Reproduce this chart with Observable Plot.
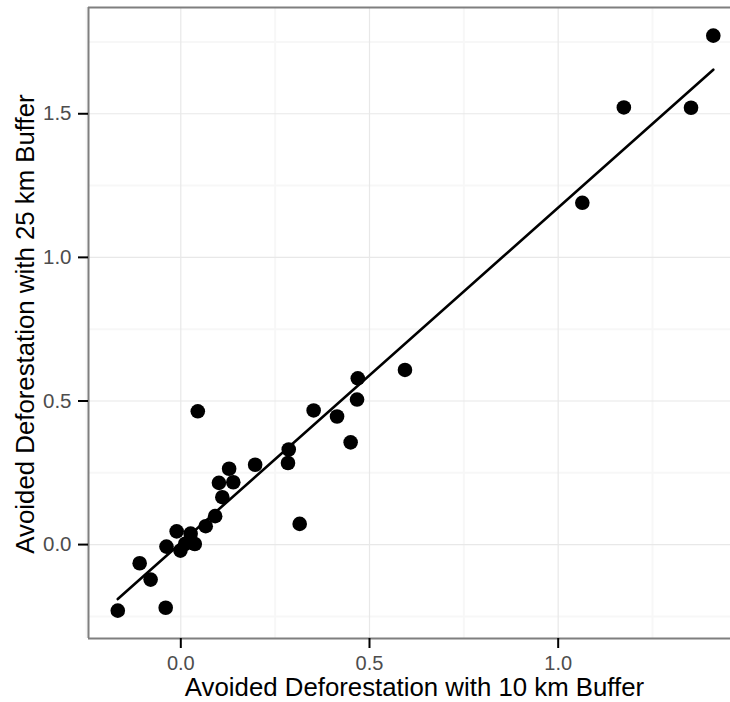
<!DOCTYPE html>
<html>
<head>
<meta charset="utf-8">
<script src="https://cdn.jsdelivr.net/npm/d3@7"></script>
<script src="https://cdn.jsdelivr.net/npm/@observablehq/plot@0.6"></script>
<style>
  html, body { margin: 0; padding: 0; background: #fff; }
  #chart svg { display: block; }
</style>
</head>
<body>
<div id="chart"></div>
<script>
// Avoided deforestation (10 km buffer vs 25 km buffer)
const buffer10 = [-0.167, -0.040, -0.109, -0.080, -0.038, -0.011, -0.001, 0.026, 0.037, 0.012,
  0.066, 0.091, 0.110, 0.101, 0.139, 0.128, 0.197, 0.045, 0.286, 0.284, 0.315, 0.352, 0.414,
  0.450, 0.469, 0.467, 0.594, 1.064, 1.174, 1.352, 1.411];
const buffer25 = [-0.230, -0.220, -0.065, -0.122, -0.007, 0.046, -0.021, 0.038, 0.002, 0.003,
  0.064, 0.099, 0.165, 0.215, 0.217, 0.264, 0.278, 0.464, 0.331, 0.284, 0.072, 0.467, 0.446,
  0.356, 0.579, 0.505, 0.608, 1.190, 1.522, 1.521, 1.772];

const xMajor = [0, 0.5, 1.0];
const xMinor = [-0.25, 0.25, 0.75, 1.25];
const yMajor = [0, 0.5, 1.0, 1.5];
const yMinor = [-0.25, 0.25, 0.75, 1.25, 1.75];
const xDomain = [-0.2446, 1.4566];
const yDomain = [-0.327, 1.870];
const xTitle = "Avoided Deforestation with 10 km Buffer";
const yTitle = "Avoided Deforestation with 25 km Buffer";

const data = buffer10.map((x, i) => ({x, y: buffer25[i]}));
const fmt = d3.format(".1f");

const chart = Plot.plot({
  width: 730,
  height: 702,
  marginLeft: 88,
  marginRight: 0,
  marginTop: 7,
  marginBottom: 64,
  style: {fontFamily: "'Liberation Sans', Arial, sans-serif", background: "#fff"},
  x: {domain: xDomain, axis: null},
  y: {domain: yDomain, axis: null},
  marks: [
    Plot.gridX(xMinor, {stroke: "#f7f7f7", strokeOpacity: 1, strokeWidth: 2}),
    Plot.gridY(yMinor, {stroke: "#f7f7f7", strokeOpacity: 1, strokeWidth: 2}),
    Plot.gridX(xMajor, {stroke: "#e8e8e8", strokeOpacity: 1, strokeWidth: 1.2}),
    Plot.gridY(yMajor, {stroke: "#e8e8e8", strokeOpacity: 1, strokeWidth: 1.2}),
    Plot.ruleX([xDomain[0]], {stroke: "#7f7f7f", strokeWidth: 2}),
    Plot.ruleY([yDomain[0], yDomain[1]], {stroke: "#7f7f7f", strokeWidth: 2}),
    Plot.axisX(xMajor, {tickSize: 10, tickPadding: 7, stroke: "#000", strokeWidth: 2,
      fill: "#4d4d4d", fontSize: 20, tickFormat: fmt, label: null}),
    Plot.axisY(yMajor, {tickSize: 10, tickPadding: 7, stroke: "#000", strokeWidth: 2,
      fill: "#4d4d4d", fontSize: 20.5, tickFormat: fmt, label: null}),
    Plot.text([xTitle], {frameAnchor: "bottom", dx: 5, dy: 57, fontSize: 25.8, fill: "#000", textAnchor: "middle"}),
    Plot.text([yTitle], {frameAnchor: "left", dx: -63, dy: 1, rotate: -90, fontSize: 25.8, fill: "#000", textAnchor: "middle"}),
    Plot.dot(data, {x: "x", y: "y", r: 7.3, fill: "#000", stroke: null}),
    Plot.linearRegressionY(data, {x: "x", y: "y", ci: 0, stroke: "#000", strokeWidth: 2.6})
  ]
});
document.getElementById("chart").append(chart);
</script>
</body>
</html>
